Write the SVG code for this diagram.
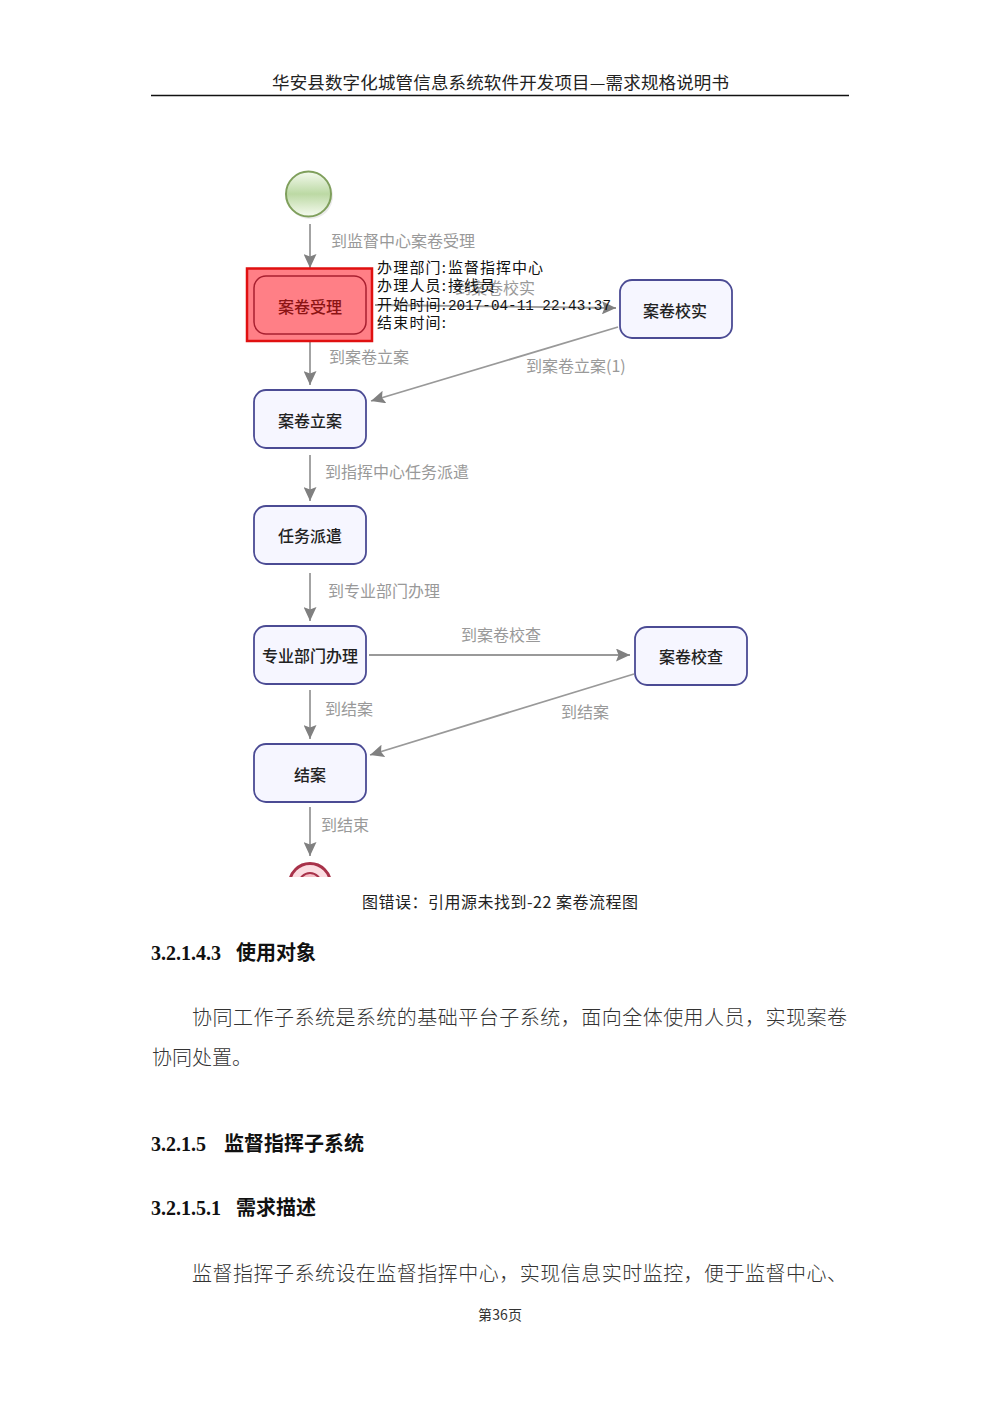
<svg xmlns="http://www.w3.org/2000/svg" width="1000" height="1415" viewBox="0 0 1000 1415">
<defs>
<marker id="arrow" markerUnits="userSpaceOnUse" markerWidth="15" markerHeight="13" refX="14" refY="6.500" orient="auto"><path d="M0,0 L14,6.500 L0,13 L2.500,6.500 Z" fill="#808080"/></marker>
<linearGradient id="startFill" x1="0" y1="0" x2="0" y2="1"><stop offset="0" stop-color="#f4faee"/><stop offset="0.5" stop-color="#bcd9a4"/><stop offset="1" stop-color="#f6fbf0"/></linearGradient>
<clipPath id="imgClip"><rect x="150" y="150" width="700" height="727"/></clipPath>
</defs>
<style>
text{font-family:"Noto Sans CJK SC","Liberation Sans",sans-serif}
.head{font-size:17.500px;fill:#222}
.body{font-size:20px;fill:#333;font-weight:300}
.h{font-family:"Liberation Serif","Noto Sans CJK SC",serif;font-size:20px;font-weight:700;fill:#111}
.hc{font-family:"Noto Sans CJK SC",sans-serif}
.n{font-size:16px;fill:#222;text-anchor:middle;font-weight:500}
.l{font-size:16px;fill:#999}
.tip{font-size:15px;fill:#111}
.mono{font-family:"Liberation Mono",monospace;font-size:14.300px;fill:#111}
.box{fill:#f6f6ff;stroke:#4b4b94;stroke-width:1.800}
.c{fill:none;stroke:#999;stroke-width:1.800;marker-end:url(#arrow)}
</style>
<rect width="1000" height="1415" fill="#fff"/>
<text class="head" x="272" y="89" textLength="457">华安县数字化城管信息系统软件开发项目—需求规格说明书</text>
<line x1="151" y1="95.500" x2="849" y2="95.500" stroke="#111" stroke-width="1.600"/>

<g id="connectors">
<line class="c" x1="310" y1="224" x2="310" y2="268"/>
<line class="c" x1="375" y1="305" x2="616" y2="308"/>
<line class="c" x1="310" y1="342" x2="310" y2="385"/>
<line class="c" x1="618" y1="327" x2="371" y2="401"/>
<line class="c" x1="310" y1="455" x2="310" y2="501"/>
<line class="c" x1="310" y1="573" x2="310" y2="621"/>
<line class="c" x1="369" y1="655" x2="630" y2="655"/>
<line class="c" x1="310" y1="690" x2="310" y2="739"/>
<line class="c" x1="634" y1="674" x2="370" y2="755"/>
<line class="c" x1="310" y1="807" x2="310" y2="856"/>
<text class="l" x="331" y="247">到监督中心案卷受理</text>
<text class="l" x="455" y="294">到案卷校实</text>
<text class="l" x="329" y="363">到案卷立案</text>
<text class="l" x="526" y="372">到案卷立案(1)</text>
<text class="l" x="325" y="478">到指挥中心任务派遣</text>
<text class="l" x="328" y="597">到专业部门办理</text>
<text class="l" x="461" y="641">到案卷校查</text>
<text class="l" x="325" y="715">到结案</text>
<text class="l" x="561" y="718">到结案</text>
<text class="l" x="321" y="831">到结束</text>
</g>

<g id="start"><circle cx="310" cy="196" r="23" fill="#ddd" opacity="0.600"/><circle cx="308.500" cy="194" r="22.500" fill="url(#startFill)" stroke="#7f9f5c" stroke-width="2"/></g>
<g id="n-accept">
<rect x="247" y="268.500" width="125" height="72.500" fill="#ff7f86" stroke="#e01010" stroke-width="2.500"/>
<rect x="254" y="276" width="112" height="58" rx="12" fill="#ff7f86" stroke="#a82030" stroke-width="1.500"/>
<text class="n" x="310" y="313" style="fill:#8c1414">案卷受理</text>
</g>
<g id="n-verify"><rect class="box" x="620" y="280" width="112" height="58" rx="12"/><text class="n" x="675" y="317">案卷校实</text></g>
<g id="n-file"><rect class="box" x="254" y="390" width="112" height="58" rx="12"/><text class="n" x="310" y="427">案卷立案</text></g>
<g id="n-dispatch"><rect class="box" x="254" y="506" width="112" height="58" rx="12"/><text class="n" x="310" y="542">任务派遣</text></g>
<g id="n-dept"><rect class="box" x="254" y="626" width="112" height="58" rx="12"/><text class="n" x="310" y="662">专业部门办理</text></g>
<g id="n-check"><rect class="box" x="635" y="627" width="112" height="58" rx="12"/><text class="n" x="691" y="663">案卷校查</text></g>
<g id="n-close"><rect class="box" x="254" y="744" width="112" height="58" rx="12"/><text class="n" x="310" y="781">结案</text></g>
<g id="end" clip-path="url(#imgClip)"><circle cx="310" cy="884" r="20.500" fill="#fbdde2" stroke="#a8324a" stroke-width="3"/><circle cx="310" cy="884" r="11" fill="#f5c0c8" stroke="#a8324a" stroke-width="2"/></g>

<g id="tooltip">
<text class="tip" x="377" y="273" textLength="69">办理部门:</text><text class="tip" x="448" y="273" textLength="95">监督指挥中心</text>
<text class="tip" x="377" y="291" textLength="69">办理人员:</text><text class="tip" x="448" y="291" textLength="47">接线员</text>
<text class="tip" x="377" y="310" textLength="69">开始时间:</text><text class="mono" x="448" y="310" textLength="163">2017-04-11 22:43:37</text>
<text class="tip" x="377" y="328" textLength="69">结束时间:</text>
</g>

<text x="362" y="908" font-size="16" fill="#222" textLength="276">图错误&#xFF1A;引用源未找到-22 案卷流程图</text>
<text class="h" x="151" y="960">3.2.1.4.3<tspan class="hc" x="236">使用对象</tspan></text>
<text class="body" x="192" y="1025" textLength="655">协同工作子系统是系统的基础平台子系统&#xFF0C;面向全体使用人员&#xFF0C;实现案卷</text>
<text class="body" x="152" y="1065" textLength="100">协同处置。</text>
<text class="h" x="151" y="1151">3.2.1.5<tspan class="hc" x="224">监督指挥子系统</tspan></text>
<text class="h" x="151" y="1215">3.2.1.5.1<tspan class="hc" x="236">需求描述</tspan></text>
<text class="body" x="192" y="1281" textLength="655">监督指挥子系统设在监督指挥中心&#xFF0C;实现信息实时监控&#xFF0C;便于监督中心、</text>
<text x="478" y="1320" font-size="14" fill="#333" textLength="44">第36页</text>
</svg>
